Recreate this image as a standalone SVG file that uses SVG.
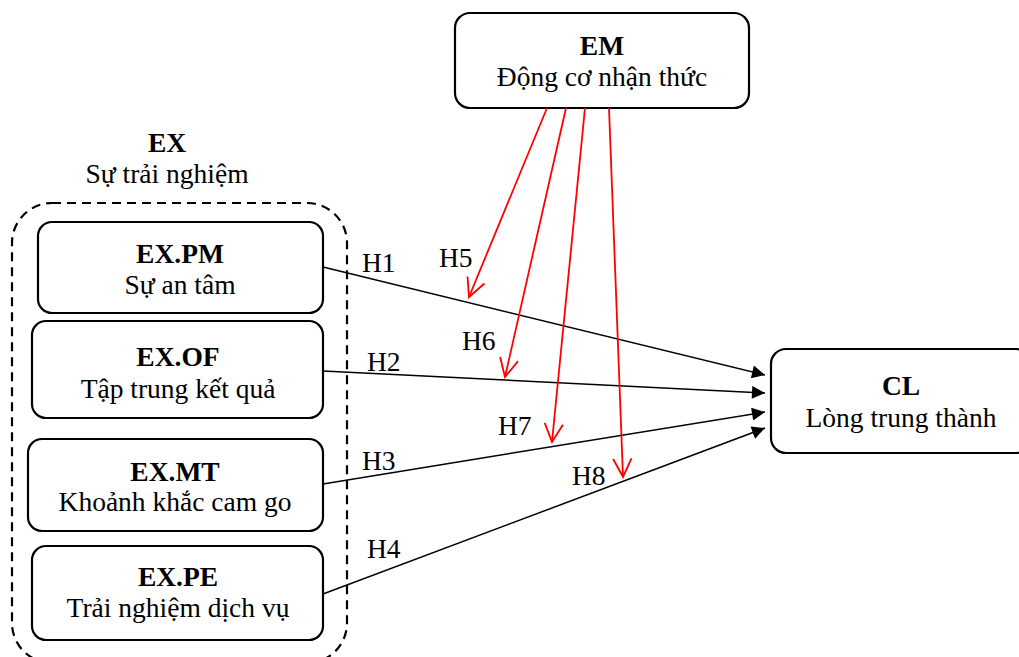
<svg xmlns="http://www.w3.org/2000/svg" width="1019" height="657" viewBox="0 0 1019 657">
<defs>
<style>
.box{fill:#fff;stroke:#000;stroke-width:2.2}
.t{font-family:"Liberation Serif","Times New Roman",serif;font-size:27.5px;fill:#000;text-anchor:middle}
.b{font-weight:bold}
.h{font-family:"Liberation Serif","Times New Roman",serif;font-size:27.5px;fill:#000}
.bl{stroke:#000;stroke-width:1.5;fill:none}
.rd{stroke:#ff0000;stroke-width:1.8;fill:none}
</style>
<marker id="ab" viewBox="0 0 10 10" refX="10" refY="5" markerWidth="15" markerHeight="13" markerUnits="userSpaceOnUse" orient="auto">
<path d="M0,0 L10,5 L0,10 Z" fill="#000"/>
</marker>
<marker id="ar" viewBox="0 0 12 12" refX="11" refY="6" markerWidth="22" markerHeight="22" markerUnits="userSpaceOnUse" orient="auto">
<path d="M1,1 L11,6 L1,11" fill="none" stroke="#ff0000" stroke-width="1"/>
</marker>
</defs>
<rect width="1019" height="657" fill="#fff"/>
<g id="ex-group">
<rect x="12" y="203" width="335" height="460" rx="40" fill="none" stroke="#000" stroke-width="2.2" stroke-dasharray="9,6"/>
<text class="t b" x="167" y="152">EX</text>
<text class="t" x="167" y="183">Sự trải nghiệm</text>
</g>
<g id="em">
<rect class="box" x="455" y="13" width="294" height="95" rx="15"/>
<text class="t b" x="602" y="55">EM</text>
<text class="t" x="602" y="86">Động cơ nhận thức</text>
</g>
<g id="cl">
<rect class="box" x="771" y="349" width="260" height="104" rx="15"/>
<text class="t b" x="901" y="395">CL</text>
<text class="t" x="901" y="427">Lòng trung thành</text>
</g>
<g id="ex-pm">
<rect class="box" x="38" y="222" width="285" height="91" rx="14"/>
<text class="t b" x="180" y="263">EX.PM</text>
<text class="t" x="180" y="294">Sự an tâm</text>
</g>
<g id="ex-of">
<rect class="box" x="32" y="321" width="291" height="97" rx="14"/>
<text class="t b" x="178" y="366">EX.OF</text>
<text class="t" x="178" y="398">Tập trung kết quả</text>
</g>
<g id="ex-mt">
<rect class="box" x="28" y="439" width="295" height="92" rx="14"/>
<text class="t b" x="175" y="481">EX.MT</text>
<text class="t" x="175" y="511">Khoảnh khắc cam go</text>
</g>
<g id="ex-pe">
<rect class="box" x="32" y="546" width="291" height="94" rx="14"/>
<text class="t b" x="178" y="586">EX.PE</text>
<text class="t" x="178" y="617">Trải nghiệm dịch vụ</text>
</g>
<g id="connectors">
<line class="bl" x1="323" y1="267" x2="765" y2="375" marker-end="url(#ab)"/>
<line class="bl" x1="323" y1="371" x2="765" y2="393" marker-end="url(#ab)"/>
<line class="bl" x1="323" y1="484" x2="765" y2="412" marker-end="url(#ab)"/>
<line class="bl" x1="323" y1="594" x2="765" y2="428" marker-end="url(#ab)"/>
<line class="rd" x1="547" y1="108" x2="469" y2="297" marker-end="url(#ar)"/>
<line class="rd" x1="566" y1="108" x2="505" y2="377" marker-end="url(#ar)"/>
<line class="rd" x1="585" y1="108" x2="552" y2="442" marker-end="url(#ar)"/>
<line class="rd" x1="609" y1="108" x2="623" y2="477" marker-end="url(#ar)"/>
<text class="h" x="362" y="272">H1</text>
<text class="h" x="367" y="371">H2</text>
<text class="h" x="362" y="470">H3</text>
<text class="h" x="367" y="558">H4</text>
<text class="h" x="439" y="267">H5</text>
<text class="h" x="462" y="350">H6</text>
<text class="h" x="498" y="435">H7</text>
<text class="h" x="572" y="485">H8</text>
</g>
</svg>
